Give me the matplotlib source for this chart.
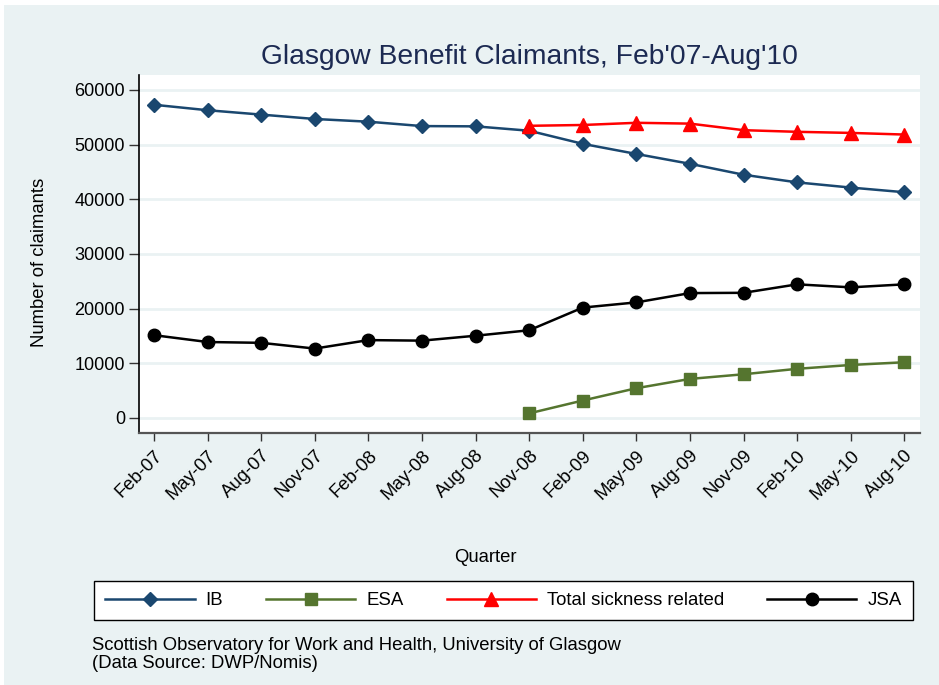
import matplotlib
matplotlib.use('Agg')
import matplotlib.pyplot as plt
from matplotlib.patches import Rectangle
from matplotlib.lines import Line2D

plt.rcParams['font.family'] = ['Liberation Sans', 'DejaVu Sans']

quarters = ['Feb-07', 'May-07', 'Aug-07', 'Nov-07', 'Feb-08', 'May-08', 'Aug-08', 'Nov-08',
            'Feb-09', 'May-09', 'Aug-09', 'Nov-09', 'Feb-10', 'May-10', 'Aug-10']
ib = [57300, 56300, 55500, 54700, 54200, 53400, 53350, 52550,
      50150, 48300, 46500, 44500, 43100, 42150, 41300]
jsa = [15150, 13900, 13750, 12700, 14250, 14150, 15050, 16050,
       20200, 21150, 22850, 22900, 24450, 23900, 24450]
late_quarters = quarters[7:]
esa = [850, 3200, 5450, 7150, 8000, 9000, 9700, 10200]
total_sickness = [53450, 53600, 54000, 53850, 52650, 52350, 52150, 51850]
yticks = [0, 10000, 20000, 30000, 40000, 50000, 60000]

W, H = 939, 685
BG = '#EAF2F3'
fig = plt.figure(figsize=(W / 100, H / 100), dpi=100, facecolor='white')
fig.patches.append(Rectangle((4 / W, 0), 1, 1 - 5 / H, transform=fig.transFigure,
                             facecolor=BG, edgecolor='none', zorder=-10))

ax = fig.add_axes([139 / W, 1 - 433 / H, (920 - 139) / W, (433 - 75) / H])
ax.set_facecolor('white')

x_all = list(range(len(quarters)))
x_late = [quarters.index(q) for q in late_quarters]

l_ib, = ax.plot(x_all, ib, color='#1a476f', lw=1.8, marker='D', ms=7.6, zorder=3)
l_esa, = ax.plot(x_late, esa, color='#55752f', lw=1.8, marker='s', ms=8.5, zorder=3)
l_tot, = ax.plot(x_late, total_sickness, color='#ff0000', lw=1.8, marker='^', ms=9.5, zorder=3)
l_jsa, = ax.plot(x_all, jsa, color='black', lw=1.8, marker='o', ms=9, zorder=3)

ppy = 60000 / 328.0
ax.set_ylim(-15 * ppy, 60000 + 15 * ppy)
ax.set_xlim(-15 / 53.6, (920 - 154) / 53.6)

ax.set_yticks(yticks)
ax.set_yticklabels([str(v) for v in yticks], fontsize=13)
ax.set_xticks(x_all)
ax.set_xticklabels(quarters, fontsize=13.3, rotation=45, ha='right', va='top',
                   rotation_mode='anchor')
ax.tick_params(axis='y', length=7, width=1, color='#333333', pad=3)
ax.tick_params(axis='x', length=6, width=1, color='#333333', pad=4)

ax.grid(axis='y', color=BG, lw=2)
ax.set_axisbelow(True)
for s in ['top', 'right']:
    ax.spines[s].set_visible(False)
ax.spines['left'].set_color('black')
ax.spines['left'].set_linewidth(1.2)
ax.spines['bottom'].set_color('#555555')
ax.spines['bottom'].set_linewidth(1.6)

fig.text(529.5 / W, 1 - 57 / H, "Glasgow Benefit Claimants, Feb'07-Aug'10",
         ha='center', va='center', fontsize=20.3, color='#1c2a52')
fig.text(40 / W, 1 - 262 / H, 'Number of claimants', rotation=90,
         ha='center', va='center', fontsize=13.3)
fig.text(485 / W, 1 - 557 / H, 'Quarter', ha='center', va='center', fontsize=13.3)

leg = fig.legend([l_ib, l_esa, l_tot, l_jsa], ['IB', 'ESA', 'Total sickness related', 'JSA'],
                 loc='center', bbox_to_anchor=(94 / W, 1 - 622 / H, (913 - 94) / W, 43 / H),
                 mode='expand', ncol=4, fontsize=13.4, handlelength=4.8, handletextpad=0.6,
                 borderpad=0.6, borderaxespad=0, fancybox=False, framealpha=1,
                 edgecolor='black', facecolor='white')
leg.get_frame().set_linewidth(1)

fig.text(92 / W, 1 - 646 / H, 'Scottish Observatory for Work and Health, University of Glasgow',
         ha='left', va='center', fontsize=13.3)
fig.text(92 / W, 1 - 664 / H, '(Data Source: DWP/Nomis)', ha='left', va='center', fontsize=13.3)

fig.savefig('out.png', dpi=100, facecolor=fig.get_facecolor())
